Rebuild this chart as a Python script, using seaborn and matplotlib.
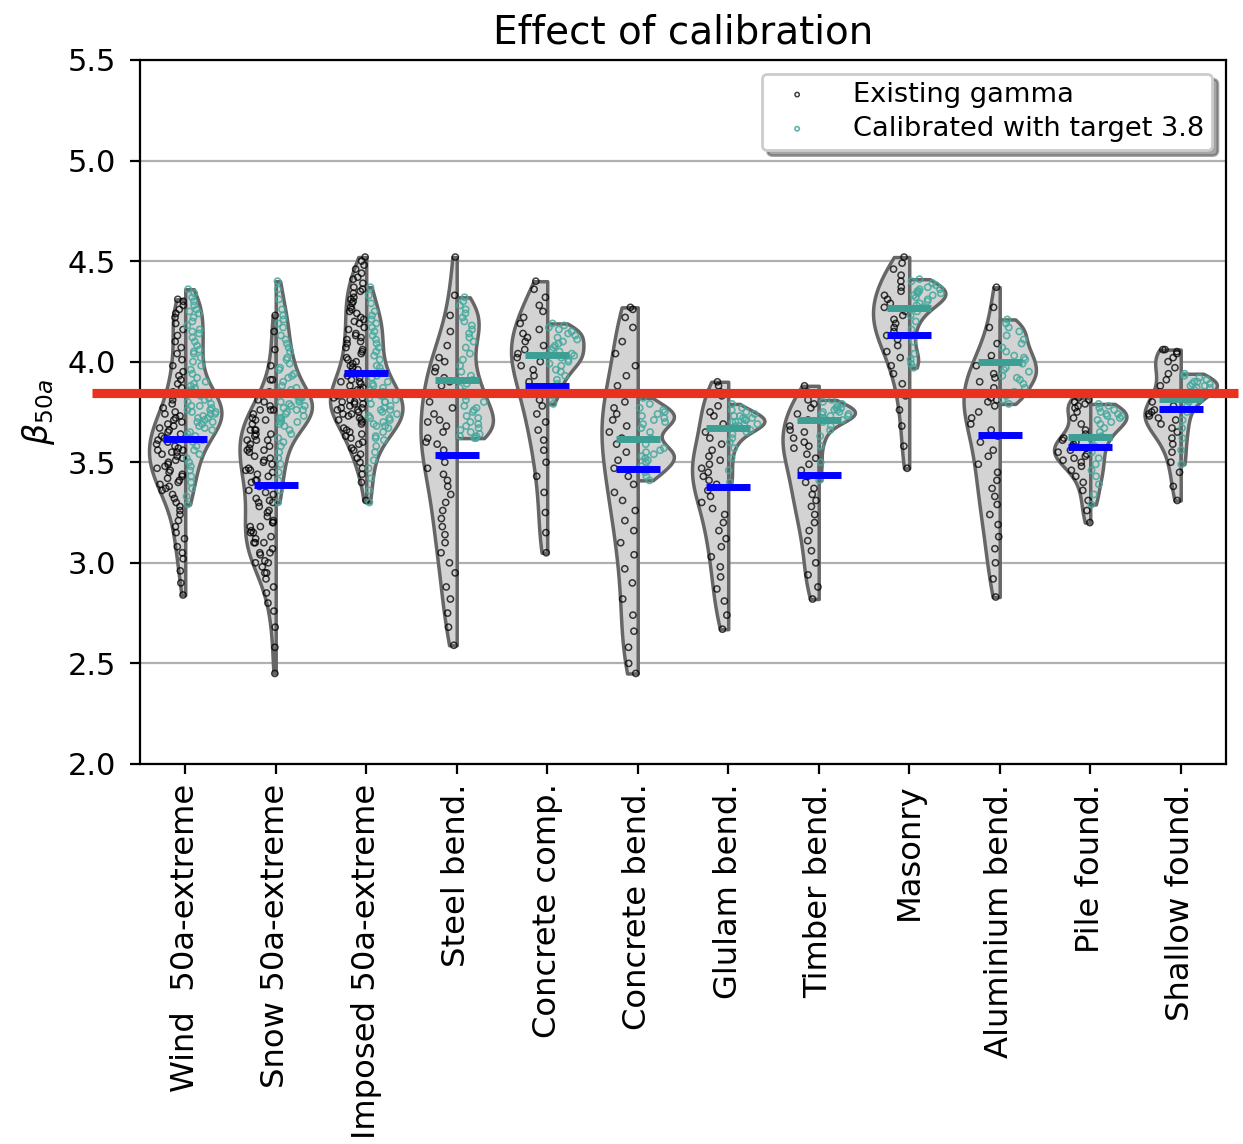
import numpy as np
import pandas as pd
import matplotlib
matplotlib.use("Agg")
import matplotlib.pyplot as plt
import seaborn as sns

categories = ["Wind  50a-extreme", "Snow 50a-extreme", "Imposed 50a-extreme", "Steel bend.",
              "Concrete comp.", "Concrete bend.", "Glulam bend.", "Timber bend.", "Masonry",
              "Aluminium bend.", "Pile found.", "Shallow found."]
series_names = ["Existing gamma", "Calibrated with target 3.8"]
target_line = 3.845

wind_existing = [2.84, 2.90, 2.96, 3.02, 3.05, 3.08, 3.12, 3.15, 3.18, 3.21, 3.24, 3.26, 3.28,
                 3.30, 3.32, 3.34, 3.36, 3.37, 3.38, 3.39, 3.40, 3.41, 3.42, 3.43, 3.44, 3.45,
                 3.46, 3.47, 3.48, 3.49, 3.50, 3.51, 3.52, 3.53, 3.54, 3.55, 3.55, 3.56, 3.56,
                 3.57, 3.58, 3.59, 3.60, 3.61, 3.62, 3.63, 3.64, 3.65, 3.66, 3.67, 3.68, 3.69,
                 3.70, 3.71, 3.72, 3.73, 3.74, 3.75, 3.77, 3.79, 3.81, 3.83, 3.85, 3.87, 3.89,
                 3.91, 3.93, 3.95, 3.98, 4.01, 4.04, 4.07, 4.10, 4.13, 4.16, 4.19, 4.22, 4.24,
                 4.26, 4.28, 4.30, 4.31]
wind_calibrated = [3.29, 3.33, 3.37, 3.40, 3.43, 3.46, 3.48, 3.50, 3.52, 3.54, 3.56, 3.58, 3.60,
                   3.61, 3.62, 3.63, 3.64, 3.65, 3.66, 3.67, 3.68, 3.69, 3.70, 3.70, 3.71, 3.72,
                   3.72, 3.73, 3.74, 3.74, 3.75, 3.75, 3.76, 3.76, 3.77, 3.78, 3.78, 3.79, 3.80,
                   3.81, 3.82, 3.83, 3.84, 3.85, 3.86, 3.87, 3.88, 3.89, 3.90, 3.92, 3.94, 3.96,
                   3.98, 4.00, 4.02, 4.04, 4.05, 4.06, 4.08, 4.10, 4.12, 4.14, 4.15, 4.16, 4.18,
                   4.20, 4.22, 4.24, 4.25, 4.26, 4.28, 4.30, 4.32, 4.34, 4.36]
snow_existing = [2.45, 2.58, 2.68, 2.76, 2.80, 2.85, 2.88, 2.92, 2.95, 2.95, 2.98, 3.00, 3.00,
                 3.01, 3.04, 3.05, 3.05, 3.07, 3.10, 3.10, 3.10, 3.12, 3.13, 3.15, 3.15, 3.16,
                 3.18, 3.18, 3.20, 3.20, 3.21, 3.23, 3.25, 3.26, 3.28, 3.30, 3.30, 3.31, 3.32,
                 3.34, 3.35, 3.36, 3.38, 3.40, 3.41, 3.41, 3.43, 3.44, 3.45, 3.46, 3.46, 3.47,
                 3.49, 3.50, 3.51, 3.52, 3.53, 3.55, 3.56, 3.56, 3.57, 3.58, 3.59, 3.61, 3.61,
                 3.61, 3.63, 3.64, 3.64, 3.66, 3.66, 3.66, 3.69, 3.71, 3.71, 3.72, 3.74, 3.76,
                 3.76, 3.76, 3.78, 3.80, 3.81, 3.85, 3.91, 3.91, 3.98, 4.06, 4.15, 4.23]
snow_calibrated = [3.30, 3.36, 3.41, 3.45, 3.49, 3.52, 3.55, 3.58, 3.60, 3.62, 3.64, 3.66, 3.68,
                   3.69, 3.70, 3.70, 3.71, 3.72, 3.72, 3.73, 3.74, 3.75, 3.76, 3.76, 3.77, 3.78,
                   3.78, 3.79, 3.80, 3.80, 3.81, 3.82, 3.82, 3.83, 3.84, 3.85, 3.86, 3.87, 3.88,
                   3.90, 3.92, 3.93, 3.94, 3.96, 3.97, 3.99, 4.01, 4.02, 4.05, 4.07, 4.09, 4.11,
                   4.13, 4.17, 4.19, 4.21, 4.23, 4.26, 4.31, 4.36, 4.40]
imposed_existing = [3.31, 3.40, 3.44, 3.47, 3.50, 3.52, 3.54, 3.56, 3.57, 3.59, 3.60, 3.62, 3.63,
                    3.64, 3.65, 3.66, 3.67, 3.69, 3.70, 3.71, 3.71, 3.72, 3.73, 3.74, 3.74, 3.75,
                    3.76, 3.76, 3.77, 3.77, 3.78, 3.79, 3.79, 3.80, 3.80, 3.81, 3.82, 3.82, 3.83,
                    3.84, 3.84, 3.85, 3.86, 3.86, 3.87, 3.88, 3.89, 3.90, 3.90, 3.91, 3.92, 3.93,
                    3.94, 3.95, 3.96, 3.97, 3.98, 3.99, 4.00, 4.01, 4.02, 4.04, 4.05, 4.06, 4.07,
                    4.09, 4.10, 4.11, 4.12, 4.13, 4.14, 4.16, 4.17, 4.19, 4.20, 4.21, 4.22, 4.24,
                    4.25, 4.26, 4.27, 4.29, 4.30, 4.31, 4.32, 4.34, 4.35, 4.36, 4.37, 4.39, 4.41,
                    4.42, 4.44, 4.46, 4.48, 4.50, 4.52]
imposed_calibrated = [3.30, 3.36, 3.42, 3.47, 3.51, 3.55, 3.58, 3.61, 3.62, 3.63, 3.65, 3.67,
                      3.68, 3.68, 3.69, 3.70, 3.71, 3.72, 3.72, 3.73, 3.74, 3.75, 3.76, 3.76,
                      3.77, 3.78, 3.79, 3.80, 3.80, 3.81, 3.82, 3.83, 3.84, 3.85, 3.86, 3.87,
                      3.88, 3.89, 3.90, 3.92, 3.93, 3.95, 3.97, 3.98, 4.01, 4.03, 4.05, 4.07,
                      4.09, 4.11, 4.13, 4.15, 4.17, 4.19, 4.21, 4.23, 4.25, 4.29, 4.33, 4.37]
steel_existing = [2.59, 2.68, 2.75, 2.82, 2.88, 2.95, 3.00, 3.05, 3.10, 3.14, 3.18, 3.22, 3.26,
                  3.30, 3.34, 3.38, 3.41, 3.44, 3.47, 3.50, 3.53, 3.56, 3.59, 3.60, 3.62, 3.65,
                  3.68, 3.70, 3.71, 3.74, 3.77, 3.80, 3.84, 3.88, 3.90, 3.92, 3.95, 3.97, 4.00,
                  4.02, 4.08, 4.15, 4.23, 4.33, 4.52]
steel_calibrated = [3.62, 3.62, 3.63, 3.63, 3.64, 3.65, 3.66, 3.67, 3.68, 3.69, 3.70, 3.72, 3.73,
                    3.75, 3.76, 3.77, 3.78, 3.80, 3.81, 3.83, 3.85, 3.87, 3.89, 3.91, 3.93, 3.95,
                    3.98, 4.01, 4.04, 4.07, 4.10, 4.12, 4.14, 4.16, 4.18, 4.20, 4.22, 4.24, 4.26,
                    4.28, 4.30, 4.32]
conc_comp_existing = [3.05, 3.15, 3.25, 3.35, 3.43, 3.50, 3.56, 3.61, 3.66, 3.70, 3.74, 3.78, 3.81,
                      3.84, 3.87, 3.90, 3.93, 3.96, 3.98, 4.00, 4.02, 4.04, 4.06, 4.08, 4.10, 4.12,
                      4.14, 4.16, 4.19, 4.22, 4.25, 4.28, 4.32, 4.36, 4.40]
conc_comp_calibrated = [3.79, 3.83, 3.86, 3.89, 3.91, 3.93, 3.95, 3.96, 3.98, 3.99, 4.00, 4.01,
                        4.02, 4.03, 4.04, 4.05, 4.06, 4.07, 4.08, 4.09, 4.10, 4.11, 4.12, 4.13,
                        4.14, 4.15, 4.16, 4.17, 4.18, 4.19]
conc_bend_existing = [2.45, 2.50, 2.58, 2.66, 2.74, 2.82, 2.90, 2.97, 3.04, 3.10, 3.16, 3.21, 3.26,
                      3.31, 3.35, 3.39, 3.43, 3.47, 3.51, 3.55, 3.59, 3.62, 3.65, 3.68, 3.71, 3.74,
                      3.77, 3.80, 3.84, 3.88, 3.93, 3.98, 4.04, 4.10, 4.17, 4.22, 4.26, 4.27]
conc_bend_calibrated = [3.41, 3.43, 3.45, 3.47, 3.48, 3.50, 3.51, 3.52, 3.53, 3.54, 3.55, 3.56,
                        3.57, 3.59, 3.62, 3.65, 3.67, 3.69, 3.70, 3.71, 3.72, 3.73, 3.74, 3.75,
                        3.76, 3.77, 3.79, 3.82]
glulam_existing = [2.67, 2.74, 2.81, 2.87, 2.93, 2.98, 3.03, 3.08, 3.12, 3.16, 3.20, 3.24, 3.27,
                   3.30, 3.33, 3.36, 3.39, 3.41, 3.43, 3.45, 3.47, 3.49, 3.51, 3.53, 3.56, 3.59,
                   3.62, 3.65, 3.69, 3.73, 3.75, 3.78, 3.83, 3.85, 3.88, 3.90]
glulam_calibrated = [3.40, 3.46, 3.52, 3.57, 3.60, 3.62, 3.64, 3.65, 3.66, 3.67, 3.68, 3.68, 3.69,
                     3.69, 3.70, 3.70, 3.71, 3.71, 3.72, 3.72, 3.73, 3.73, 3.74, 3.75, 3.76, 3.77,
                     3.79]
timber_existing = [2.82, 2.88, 2.94, 3.00, 3.06, 3.11, 3.16, 3.20, 3.24, 3.28, 3.31, 3.34, 3.37,
                   3.40, 3.43, 3.46, 3.49, 3.52, 3.54, 3.57, 3.58, 3.60, 3.62, 3.65, 3.66, 3.68,
                   3.71, 3.74, 3.77, 3.79, 3.81, 3.85, 3.88]
timber_calibrated = [3.41, 3.50, 3.58, 3.63, 3.66, 3.68, 3.70, 3.71, 3.72, 3.72, 3.73, 3.73, 3.74,
                     3.74, 3.75, 3.75, 3.76, 3.76, 3.77, 3.77, 3.78, 3.79, 3.80, 3.81]
masonry_existing = [3.47, 3.58, 3.68, 3.76, 3.83, 3.89, 3.94, 3.98, 4.02, 4.05, 4.08, 4.11, 4.13,
                    4.15, 4.17, 4.19, 4.21, 4.23, 4.25, 4.27, 4.29, 4.31, 4.33, 4.35, 4.37, 4.40,
                    4.43, 4.46, 4.49, 4.52]
masonry_calibrated = [3.97, 3.99, 4.01, 4.04, 4.10, 4.16, 4.20, 4.23, 4.25, 4.27, 4.28, 4.29, 4.30,
                      4.31, 4.32, 4.33, 4.33, 4.34, 4.34, 4.35, 4.35, 4.36, 4.36, 4.37, 4.38, 4.39,
                      4.40, 4.41]
alu_existing = [2.83, 2.92, 3.00, 3.07, 3.13, 3.19, 3.24, 3.29, 3.33, 3.37, 3.41, 3.45, 3.49, 3.53,
                3.56, 3.60, 3.63, 3.66, 3.69, 3.72, 3.75, 3.78, 3.80, 3.81, 3.82, 3.84, 3.87, 3.90,
                3.92, 3.94, 3.98, 4.00, 4.03, 4.09, 4.17, 4.27, 4.37]
alu_calibrated = [3.79, 3.81, 3.83, 3.85, 3.87, 3.89, 3.91, 3.92, 3.93, 3.95, 3.96, 3.97, 3.99,
                  4.01, 4.02, 4.03, 4.05, 4.07, 4.09, 4.11, 4.13, 4.15, 4.17, 4.19, 4.21]
pile_existing = [3.20, 3.26, 3.31, 3.36, 3.40, 3.43, 3.46, 3.48, 3.50, 3.51, 3.52, 3.53, 3.54,
                 3.55, 3.56, 3.57, 3.58, 3.59, 3.60, 3.61, 3.62, 3.64, 3.66, 3.69, 3.72, 3.75,
                 3.77, 3.78, 3.79, 3.80, 3.81, 3.82]
pile_calibrated = [3.29, 3.34, 3.39, 3.43, 3.46, 3.49, 3.52, 3.55, 3.58, 3.61, 3.63, 3.65, 3.67,
                   3.69, 3.70, 3.71, 3.72, 3.73, 3.73, 3.74, 3.74, 3.75, 3.76, 3.77, 3.78, 3.79]
shallow_existing = [3.31, 3.38, 3.45, 3.50, 3.55, 3.59, 3.62, 3.65, 3.67, 3.69, 3.71, 3.72, 3.73,
                    3.74, 3.75, 3.76, 3.78, 3.80, 3.82, 3.85, 3.88, 3.91, 3.94, 3.97, 4.00, 4.02,
                    4.04, 4.05, 4.06, 4.06]
shallow_calibrated = [3.49, 3.56, 3.62, 3.67, 3.71, 3.75, 3.78, 3.80, 3.82, 3.84, 3.85, 3.86, 3.87,
                      3.87, 3.88, 3.88, 3.89, 3.89, 3.90, 3.90, 3.91, 3.92, 3.93, 3.94]

existing_sets = [wind_existing, snow_existing, imposed_existing, steel_existing, conc_comp_existing,
                 conc_bend_existing, glulam_existing, timber_existing, masonry_existing,
                 alu_existing, pile_existing, shallow_existing]
calibrated_sets = [wind_calibrated, snow_calibrated, imposed_calibrated, steel_calibrated,
                   conc_comp_calibrated, conc_bend_calibrated, glulam_calibrated, timber_calibrated,
                   masonry_calibrated, alu_calibrated, pile_calibrated, shallow_calibrated]

rows = []
for cat, ex, ca in zip(categories, existing_sets, calibrated_sets):
    rows += [(cat, series_names[0], v) for v in ex]
    rows += [(cat, series_names[1], v) for v in ca]
df = pd.DataFrame(rows, columns=["category", "series", "beta"])

BW_ADJ = 0.75

fig = plt.figure(figsize=(12.43 / 2, 11.44 / 2), dpi=200)
ax = fig.add_axes([0.1126, 0.3322, 0.8737, 0.6154])

sns.violinplot(data=df, x="category", y="beta", hue="series", order=categories,
               hue_order=series_names, split=True, inner=None, cut=0, density_norm="width",
               bw_adjust=BW_ADJ, palette=["#d3d3d3", "#d3d3d3"], saturation=1,
               linecolor="#666666", linewidth=1.25, legend=False, ax=ax, zorder=2)


def kde(vals, pts):
    v = np.asarray(vals, float)
    bw = v.std(ddof=1) * len(v) ** (-0.2) * BW_ADJ
    return np.exp(-0.5 * ((np.asarray(pts)[:, None] - v[None, :]) / bw) ** 2).sum(1)


rng = np.random.default_rng(7)
half = 0.4
pts_x = {0: [], 1: []}
pts_y = {0: [], 1: []}
for i, (ex, ca) in enumerate(zip(existing_sets, calibrated_sets)):
    for k, vals in enumerate((ex, ca)):
        grid = np.linspace(min(vals), max(vals), 300)
        dmax = kde(vals, grid).max()
        dens = kde(vals, vals) / dmax
        u = rng.uniform(0.06, 0.9, len(vals))
        sign = -1 if k == 0 else 1
        pts_x[k] += list(i + sign * u * half * dens)
        pts_y[k] += list(vals)

h1 = ax.scatter(pts_x[0], pts_y[0], s=5, facecolors="none", edgecolors="black",
                linewidths=0.55, alpha=0.75, zorder=3, label=series_names[0])
h2 = ax.scatter(pts_x[1], pts_y[1], s=5, facecolors="none", edgecolors="#45a99d",
                linewidths=0.6, alpha=0.85, zorder=3, label=series_names[1])

sns.pointplot(data=df, x="category", y="beta", hue="series", order=categories,
              hue_order=series_names[::-1], estimator="mean", errorbar=None, dodge=False,
              markers="_", linestyle="none", palette=["#3d9e94", "#0000ff"],
              markersize=16, markeredgewidth=2.5, legend=False, ax=ax, zorder=4)

ax.plot([-0.044, 1.0115], [target_line, target_line], transform=ax.get_yaxis_transform(),
        clip_on=False, color="#e8321f", lw=3.3, solid_capstyle="butt", zorder=6)

ax.set_xlim(-0.5, len(categories) - 0.5)
ax.set_ylim(2.0, 5.5)
ticks = np.arange(2.0, 5.51, 0.5)
ax.set_yticks(ticks)
ax.set_yticklabels([f"{t:.1f}" for t in ticks], fontsize=11)
ax.tick_params(axis="y", length=3.5, pad=5)
ax.set_xticks(range(len(categories)))
ax.set_xticklabels(categories, rotation=90, fontsize=11.6)
ax.yaxis.grid(True, color="#b0b0b0", lw=0.8)
ax.xaxis.grid(False)
ax.set_axisbelow(True)
ax.set_xlabel("")
ax.set_ylabel(r"$\beta_{50a}$", fontsize=12)
ax.set_title("Effect of calibration", fontsize=14)
for s in ax.spines.values():
    s.set_color("black")
    s.set_linewidth(0.8)

ax.legend(handles=[h1, h2], loc="upper right", shadow=True, fontsize=9.8, markerscale=0.7,
          labelspacing=0.3, handletextpad=1.05, borderpad=0.3)

fig.savefig("out.png", dpi=200)
